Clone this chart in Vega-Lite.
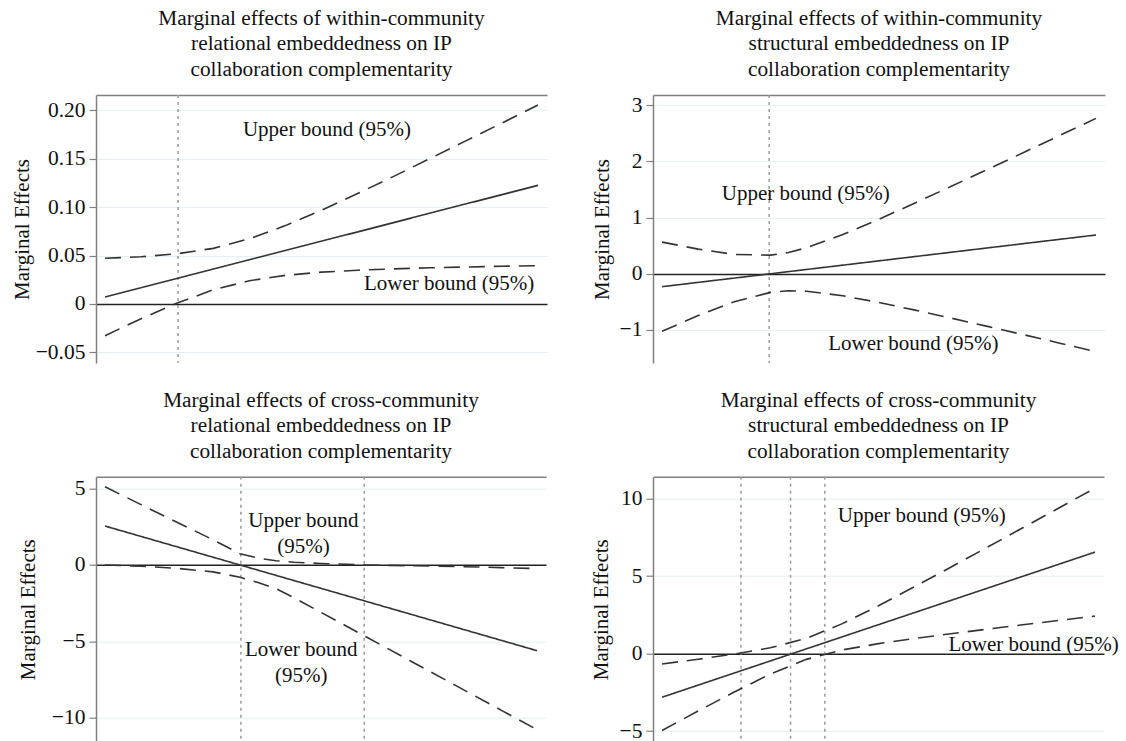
{
  "$schema": "https://vega.github.io/schema/vega-lite/v6.json",
  "background": "white",
  "padding": {"left": 11, "top": 7, "right": 0, "bottom": 0},
  "autosize": {"type": "pad"},
  "bounds": "flush",
  "columns": 2,
  "spacing": {"row": 113.7, "column": 106},
  "resolve": {"scale": {"x": "independent", "y": "independent", "strokeDash": "independent"}},
  "config": {
    "font": "Liberation Serif",
    "view": {"stroke": null},
    "axis": {
      "labelFont": "Liberation Serif", "titleFont": "Liberation Serif",
      "labelFontSize": 21.5, "titleFontSize": 21, "titleFontWeight": "normal",
      "labelColor": "#111", "titleColor": "#111",
      "domainColor": "#808080", "domainWidth": 1.5,
      "tickColor": "#808080", "tickWidth": 1.2, "tickSize": 7,
      "labelPadding": 4, "titlePadding": 6
    },
    "title": {"font": "Liberation Serif", "fontSize": 21.3, "fontWeight": "normal", "color": "#111", "lineHeight": 25.5, "anchor": "middle", "offset": 14}
  },
  "datasets": {
    "p1": [
      {"x": 2, "me": 0.0072, "up": 0.0472, "lo": -0.0328},
      {"x": 10, "me": 0.0168, "up": 0.0488, "lo": -0.0152},
      {"x": 18, "me": 0.0264, "up": 0.0519, "lo": 0.0009},
      {"x": 26, "me": 0.0361, "up": 0.0575, "lo": 0.0147},
      {"x": 34, "me": 0.0457, "up": 0.0674, "lo": 0.0240},
      {"x": 42, "me": 0.0553, "up": 0.0810, "lo": 0.0296},
      {"x": 50, "me": 0.0649, "up": 0.0969, "lo": 0.0329},
      {"x": 58, "me": 0.0745, "up": 0.1141, "lo": 0.0349},
      {"x": 66, "me": 0.0841, "up": 0.1319, "lo": 0.0363},
      {"x": 74, "me": 0.0938, "up": 0.1502, "lo": 0.0374},
      {"x": 82, "me": 0.1034, "up": 0.1686, "lo": 0.0382},
      {"x": 90, "me": 0.1130, "up": 0.1870, "lo": 0.0390},
      {"x": 98, "me": 0.1226, "up": 0.2057, "lo": 0.0395}
    ],
    "p2": [
      {"x": 2, "me": -0.231, "up": 0.5625, "lo": -1.0245},
      {"x": 10, "me": -0.1544, "up": 0.4370, "lo": -0.7458},
      {"x": 18, "me": -0.0777, "up": 0.3424, "lo": -0.4978},
      {"x": 26, "me": -0.0011, "up": 0.3303, "lo": -0.3325},
      {"x": 30, "me": 0.0373, "up": 0.378, "lo": -0.304},
      {"x": 34, "me": 0.0756, "up": 0.4626, "lo": -0.3114},
      {"x": 42, "me": 0.1522, "up": 0.6966, "lo": -0.3922},
      {"x": 50, "me": 0.2288, "up": 0.9702, "lo": -0.5126},
      {"x": 58, "me": 0.3055, "up": 1.2592, "lo": -0.6482},
      {"x": 66, "me": 0.3821, "up": 1.5551, "lo": -0.7909},
      {"x": 74, "me": 0.4588, "up": 1.8548, "lo": -0.9372},
      {"x": 82, "me": 0.5354, "up": 2.1567, "lo": -1.0859},
      {"x": 90, "me": 0.6120, "up": 2.4599, "lo": -1.2359},
      {"x": 98, "me": 0.6887, "up": 2.7642, "lo": -1.3868}
    ],
    "p3": [
      {"x": 2, "me": 2.55, "up": 5.12, "lo": 0.0},
      {"x": 10, "me": 1.87, "up": 3.95, "lo": -0.08},
      {"x": 18, "me": 1.19, "up": 2.80, "lo": -0.22},
      {"x": 26, "me": 0.51, "up": 1.65, "lo": -0.45},
      {"x": 32, "me": 0.0, "up": 0.74, "lo": -0.80},
      {"x": 36, "me": -0.34, "up": 0.45, "lo": -1.15},
      {"x": 40, "me": -0.68, "up": 0.28, "lo": -1.55},
      {"x": 44, "me": -1.02, "up": 0.18, "lo": -2.15},
      {"x": 50, "me": -1.53, "up": 0.10, "lo": -3.10},
      {"x": 60, "me": -2.38, "up": 0.0, "lo": -4.70},
      {"x": 70, "me": -3.23, "up": -0.05, "lo": -6.30},
      {"x": 80, "me": -4.08, "up": -0.10, "lo": -7.90},
      {"x": 90, "me": -4.93, "up": -0.17, "lo": -9.50},
      {"x": 98, "me": -5.61, "up": -0.24, "lo": -10.78}
    ],
    "p4": [
      {"x": 2, "me": -2.82, "up": -0.672, "lo": -4.968},
      {"x": 10, "me": -2.039, "up": -0.367, "lo": -3.711},
      {"x": 18, "me": -1.258, "up": -0.034, "lo": -2.482},
      {"x": 26, "me": -0.477, "up": 0.371, "lo": -1.325},
      {"x": 34, "me": 0.304, "up": 0.982, "lo": -0.374},
      {"x": 42, "me": 1.085, "up": 1.933, "lo": 0.237},
      {"x": 50, "me": 1.866, "up": 3.09, "lo": 0.642},
      {"x": 58, "me": 2.646, "up": 4.318, "lo": 0.974},
      {"x": 66, "me": 3.427, "up": 5.575, "lo": 1.279},
      {"x": 74, "me": 4.208, "up": 6.845, "lo": 1.571},
      {"x": 82, "me": 4.989, "up": 8.121, "lo": 1.857},
      {"x": 90, "me": 5.770, "up": 9.401, "lo": 2.139},
      {"x": 98, "me": 6.551, "up": 10.684, "lo": 2.418}
    ],
    "v1": [{"x": 18.2}],
    "v2": [{"x": 25.7}],
    "v3": [{"x": 32.2}, {"x": 59.6}],
    "v4": [{"x": 19.5}, {"x": 30.5}, {"x": 38.1}],
    "t1": [
      {"x": 51.2, "v": 0.180, "label": "Upper bound (95%)"},
      {"x": 78.3, "v": 0.0207, "label": "Lower bound (95%)"}
    ],
    "t2": [
      {"x": 33.8, "v": 1.413, "label": "Upper bound (95%)"},
      {"x": 57.6, "v": -1.256, "label": "Lower bound (95%)"}
    ],
    "t3": [
      {"x": 46.1, "v": 2.876, "label": "Upper bound\n(95%)"},
      {"x": 45.6, "v": -5.575, "label": "Lower bound\n(95%)"}
    ],
    "t4": [
      {"x": 59.6, "v": 8.875, "label": "Upper bound (95%)"},
      {"x": 84.4, "v": 0.58, "label": "Lower bound (95%)"}
    ]
  },
  "concat": [
    {
      "width": 451, "height": 268,
      "title": {"text": ["Marginal effects of within-community", "relational embeddedness on IP", "collaboration complementarity"]},
      "encoding": {"x": {"field": "x", "type": "quantitative", "scale": {"domain": [0, 100], "nice": false, "zero": false}, "axis": {"orient": "top", "labels": false, "ticks": false, "grid": false, "title": null, "domainColor": "#808080", "domainWidth": 1.5}}},
      "layer": [
        {"data": {"name": "v1"}, "mark": {"type": "rule", "color": "#9a9a9a", "strokeWidth": 1.5, "strokeDash": [3, 4]}, "encoding": {}},
        {"data": {"name": "p1"}, "transform": [{"fold": ["me", "up", "lo"], "as": ["s", "v"]}],
         "mark": {"type": "line", "color": "#333", "strokeWidth": 1.6},
         "encoding": {
           "y": {"field": "v", "type": "quantitative", "title": "Marginal Effects", "scale": {"domain": [-0.061, 0.216], "nice": false, "zero": false},
                 "axis": {"values": [-0.05, 0, 0.05, 0.1, 0.15, 0.2], "labelExpr": "datum.value === 0 ? '0' : format(datum.value, '.2f')", "grid": true, "titlePadding": 3,
                          "gridColor": {"condition": {"test": "datum.value === 0", "value": "#222"}, "value": "#e6eff2"},
                          "gridWidth": {"condition": {"test": "datum.value === 0", "value": 1.6}, "value": 1}}},
           "strokeDash": {"field": "s", "type": "nominal", "scale": {"domain": ["me", "up", "lo"], "range": [[1, 0], [16, 9], [16, 9]]}, "legend": null}
         }},
        {"data": {"name": "t1"}, "mark": {"type": "text", "font": "Liberation Serif", "fontSize": 21, "color": "#111", "align": "center", "baseline": "middle", "lineBreak": "\n", "lineHeight": 26},
         "encoding": {"y": {"field": "v", "type": "quantitative", "title": "Marginal Effects"}, "text": {"field": "label"}}}
      ]
    },
    {
      "width": 452, "height": 268,
      "title": {"text": ["Marginal effects of within-community", "structural embeddedness on IP", "collaboration complementarity"]},
      "encoding": {"x": {"field": "x", "type": "quantitative", "scale": {"domain": [0, 100], "nice": false, "zero": false}, "axis": {"orient": "top", "labels": false, "ticks": false, "grid": false, "title": null, "domainColor": "#808080", "domainWidth": 1.5}}},
      "layer": [
        {"data": {"name": "v2"}, "mark": {"type": "rule", "color": "#9a9a9a", "strokeWidth": 1.5, "strokeDash": [3, 4]}, "encoding": {}},
        {"data": {"name": "p2"}, "transform": [{"fold": ["me", "up", "lo"], "as": ["s", "v"]}],
         "mark": {"type": "line", "color": "#333", "strokeWidth": 1.6},
         "encoding": {
           "y": {"field": "v", "type": "quantitative", "title": "Marginal Effects", "scale": {"domain": [-1.589, 3.18], "nice": false, "zero": false},
                 "axis": {"values": [-1, 0, 1, 2, 3], "format": "d", "grid": true, "titlePadding": 7,
                          "gridColor": {"condition": {"test": "datum.value === 0", "value": "#222"}, "value": "#e6eff2"},
                          "gridWidth": {"condition": {"test": "datum.value === 0", "value": 1.6}, "value": 1}}},
           "strokeDash": {"field": "s", "type": "nominal", "scale": {"domain": ["me", "up", "lo"], "range": [[1, 0], [16, 9], [16, 9]]}, "legend": null}
         }},
        {"data": {"name": "t2"}, "mark": {"type": "text", "font": "Liberation Serif", "fontSize": 21, "color": "#111", "align": "center", "baseline": "middle", "lineBreak": "\n", "lineHeight": 26},
         "encoding": {"y": {"field": "v", "type": "quantitative", "title": "Marginal Effects"}, "text": {"field": "label"}}}
      ]
    },
    {
      "width": 450, "height": 265,
      "title": {"text": ["Marginal effects of cross-community", "relational embeddedness on IP", "collaboration complementarity"]},
      "encoding": {"x": {"field": "x", "type": "quantitative", "scale": {"domain": [0, 100], "nice": false, "zero": false}, "axis": {"orient": "top", "labels": false, "ticks": false, "grid": false, "title": null, "domainColor": "#808080", "domainWidth": 1.5}}},
      "layer": [
        {"data": {"name": "v3"}, "mark": {"type": "rule", "color": "#9a9a9a", "strokeWidth": 1.5, "strokeDash": [3, 4]}, "encoding": {}},
        {"data": {"name": "p3"}, "transform": [{"fold": ["me", "up", "lo"], "as": ["s", "v"]}],
         "mark": {"type": "line", "color": "#333", "strokeWidth": 1.6},
         "encoding": {
           "y": {"field": "v", "type": "quantitative", "title": "Marginal Effects", "scale": {"domain": [-11.57, 5.78], "nice": false, "zero": false},
                 "axis": {"values": [-10, -5, 0, 5], "format": "d", "grid": true, "titlePadding": 13,
                          "gridColor": {"condition": {"test": "datum.value === 0", "value": "#222"}, "value": "#e6eff2"},
                          "gridWidth": {"condition": {"test": "datum.value === 0", "value": 1.6}, "value": 1}}},
           "strokeDash": {"field": "s", "type": "nominal", "scale": {"domain": ["me", "up", "lo"], "range": [[1, 0], [16, 9], [16, 9]]}, "legend": null}
         }},
        {"data": {"name": "t3"}, "mark": {"type": "text", "font": "Liberation Serif", "fontSize": 21, "color": "#111", "align": "center", "baseline": "middle", "lineBreak": "\n", "lineHeight": 26},
         "encoding": {"y": {"field": "v", "type": "quantitative", "title": "Marginal Effects"}, "text": {"field": "label"}}}
      ]
    },
    {
      "width": 451, "height": 265,
      "title": {"text": ["Marginal effects of cross-community", "structural embeddedness on IP", "collaboration complementarity"]},
      "encoding": {"x": {"field": "x", "type": "quantitative", "scale": {"domain": [0, 100], "nice": false, "zero": false}, "axis": {"orient": "top", "labels": false, "ticks": false, "grid": false, "title": null, "domainColor": "#808080", "domainWidth": 1.5}}},
      "layer": [
        {"data": {"name": "v4"}, "mark": {"type": "rule", "color": "#9a9a9a", "strokeWidth": 1.5, "strokeDash": [3, 4]}, "encoding": {}},
        {"data": {"name": "p4"}, "transform": [{"fold": ["me", "up", "lo"], "as": ["s", "v"]}],
         "mark": {"type": "line", "color": "#333", "strokeWidth": 1.6},
         "encoding": {
           "y": {"field": "v", "type": "quantitative", "title": "Marginal Effects", "scale": {"domain": [-5.69, 11.42], "nice": false, "zero": false},
                 "axis": {"values": [-5, 0, 5, 10], "format": "d", "grid": true, "titlePadding": 8,
                          "gridColor": {"condition": {"test": "datum.value === 0", "value": "#222"}, "value": "#e6eff2"},
                          "gridWidth": {"condition": {"test": "datum.value === 0", "value": 1.6}, "value": 1}}},
           "strokeDash": {"field": "s", "type": "nominal", "scale": {"domain": ["me", "up", "lo"], "range": [[1, 0], [16, 9], [16, 9]]}, "legend": null}
         }},
        {"data": {"name": "t4"}, "mark": {"type": "text", "font": "Liberation Serif", "fontSize": 21, "color": "#111", "align": "center", "baseline": "middle", "lineBreak": "\n", "lineHeight": 26},
         "encoding": {"y": {"field": "v", "type": "quantitative", "title": "Marginal Effects"}, "text": {"field": "label"}}}
      ]
    }
  ]
}
